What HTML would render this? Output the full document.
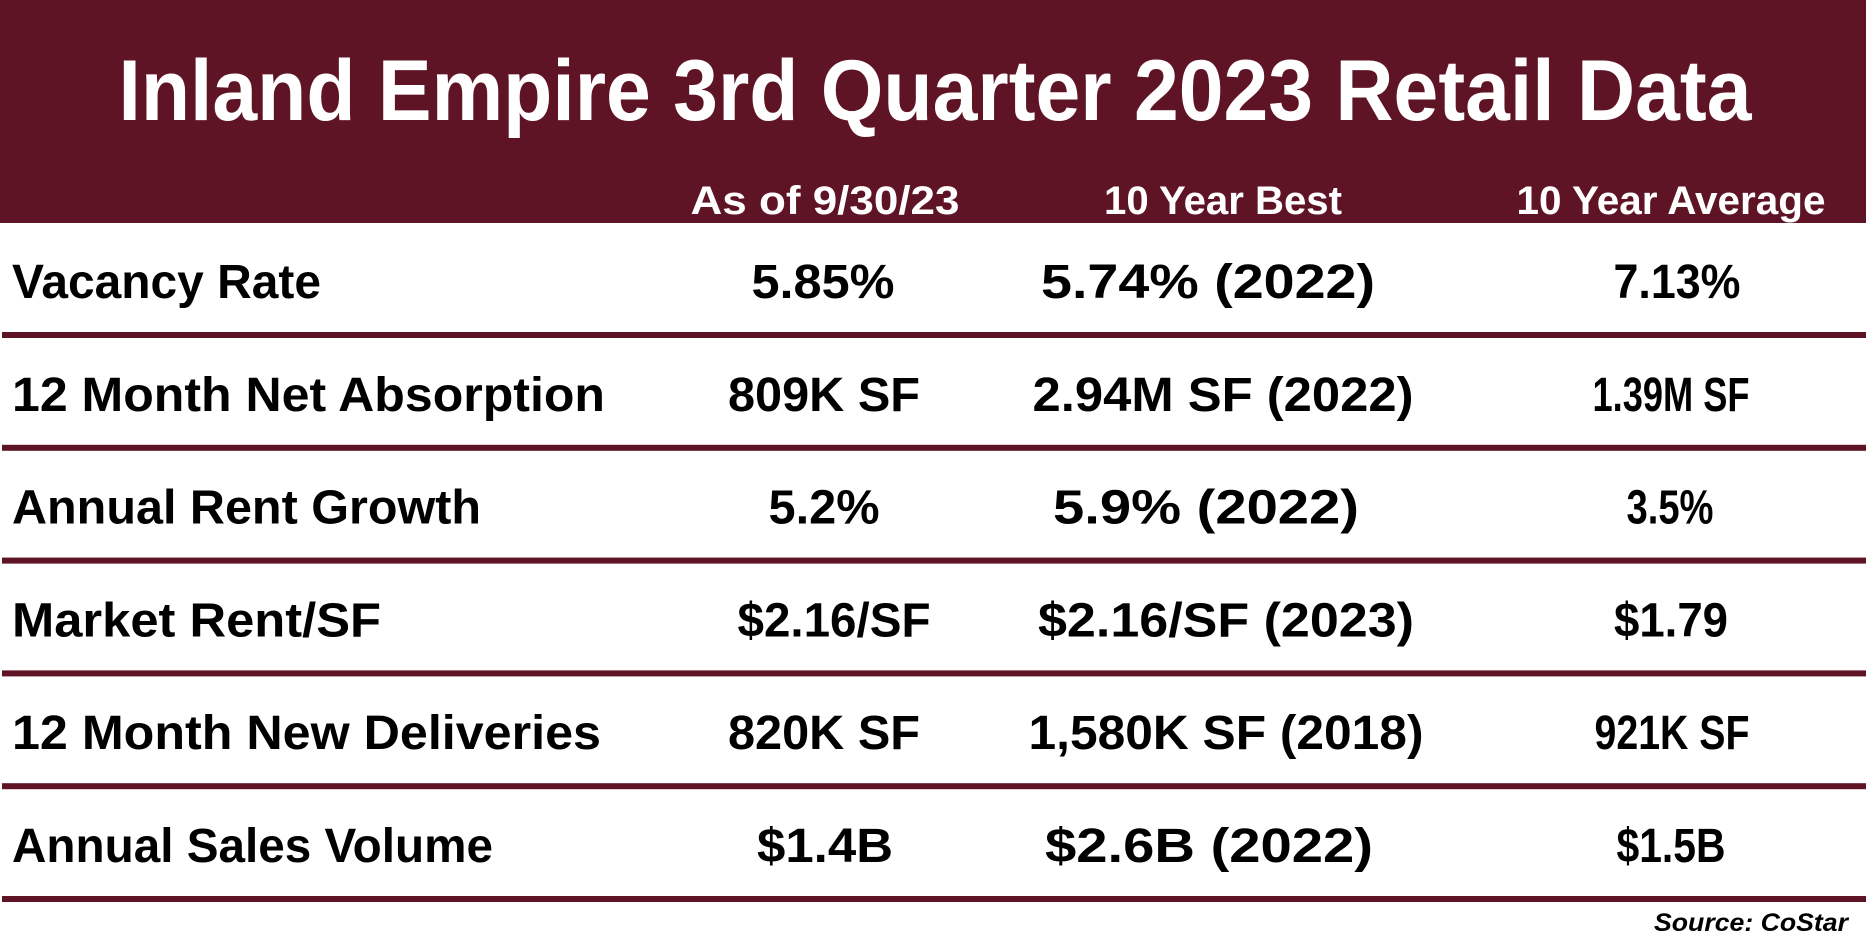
<!DOCTYPE html>
<html><head><meta charset="utf-8"><style>
html,body{margin:0;padding:0;background:#fff;}
svg{display:block;font-family:"Liberation Sans",sans-serif;font-weight:bold;}
</style></head><body>
<svg width="1866" height="941" viewBox="0 0 1866 941">
<rect x="0" y="0" width="1866" height="223" fill="#5e1424"/>
<text x="935" y="120" font-size="86" fill="#fff" text-anchor="middle" textLength="1633" lengthAdjust="spacingAndGlyphs">Inland Empire 3rd Quarter 2023 Retail Data</text>
<text x="825" y="214" font-size="40" fill="#fff" text-anchor="middle" textLength="269" lengthAdjust="spacingAndGlyphs">As of 9/30/23</text>
<text x="1223" y="214" font-size="40" fill="#fff" text-anchor="middle" textLength="238" lengthAdjust="spacingAndGlyphs">10 Year Best</text>
<text x="1671" y="214" font-size="40" fill="#fff" text-anchor="middle" textLength="309" lengthAdjust="spacingAndGlyphs">10 Year Average</text>
<g id="rows"></g>
<text x="1848" y="931" font-size="25" font-style="italic" fill="#000" text-anchor="end" textLength="194" lengthAdjust="spacingAndGlyphs">Source: CoStar</text>
</svg>
<script>
const labels=["Vacancy Rate","12 Month Net Absorption","Annual Rent Growth","Market Rent/SF","12 Month New Deliveries","Annual Sales Volume"];
const current=["5.85%","809K SF","5.2%","$2.16/SF","820K SF","$1.4B"];
const best=["5.74% (2022)","2.94M SF (2022)","5.9% (2022)","$2.16/SF (2023)","1,580K SF (2018)","$2.6B (2022)"];
const average=["7.13%","1.39M SF","3.5%","$1.79","921K SF","$1.5B"];
const labelW=[309,593,469,369,589,481];
const c1=[[823,143],[824,192],[824,111],[834,193],[824,192],[825,136]];
const c2=[[1208,334],[1223,381],[1206,306],[1226,376],[1226,395],[1209,328]];
const c3=[[1677,127],[1671,157],[1670,87],[1671,114],[1672,155],[1671,109]];
const NS="http://www.w3.org/2000/svg";
const g=document.getElementById('rows');
const baseY=298, step=112.8;
function txt(x,y,s,w,anchor,name){
  const t=document.createElementNS(NS,'text');
  t.setAttribute('x',x);t.setAttribute('y',y);t.setAttribute('font-size','48');
  t.setAttribute('fill','#000');t.setAttribute('text-anchor',anchor);
  t.setAttribute('textLength',w);t.setAttribute('lengthAdjust','spacingAndGlyphs');
  t.textContent=s;
  
  
  g.appendChild(t);
}
labels.forEach((l,i)=>{
  const y=baseY+step*i;
  txt(12,y,l,labelW[i],'start','row-label');
  txt(c1[i][0],y,current[i],c1[i][1],'middle','current-value');
  txt(c2[i][0],y,best[i],c2[i][1],'middle','best-value');
  txt(c3[i][0],y,average[i],c3[i][1],'middle','average-value');
  const r=document.createElementNS(NS,'rect');
  r.setAttribute('x',2);r.setAttribute('y',332+step*i);r.setAttribute('width',1864);r.setAttribute('height',6);
  r.setAttribute('fill','#5e1424');
  
  
  g.appendChild(r);
});
</script>
</body></html>
